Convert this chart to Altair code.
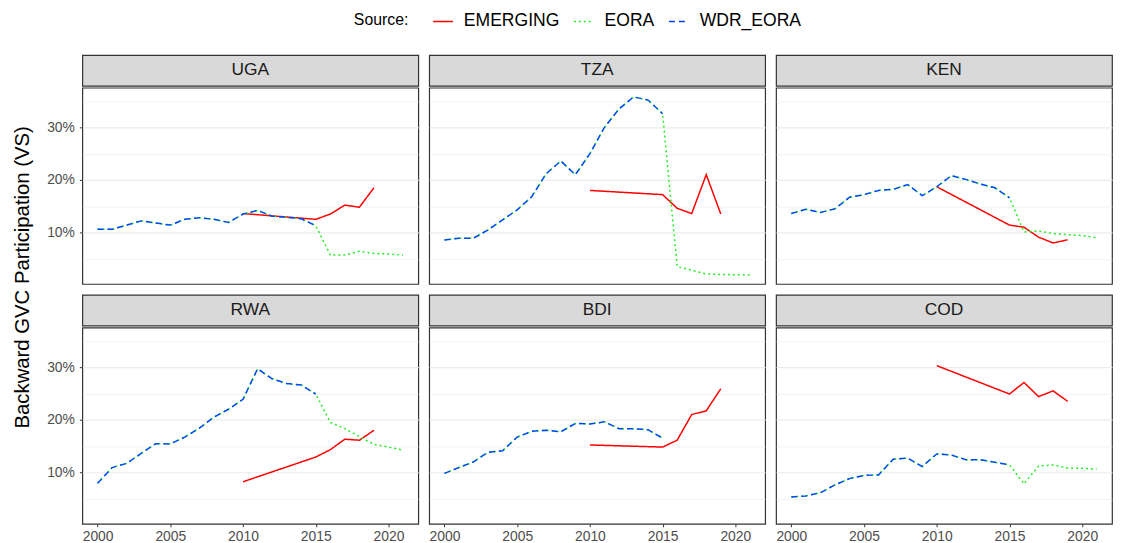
import altair as alt
import pandas as pd

countries = ["UGA", "TZA", "KEN", "RWA", "BDI", "COD"]
sources = ["EMERGING", "EORA", "WDR_EORA"]

years_wdr = list(range(2000, 2016))
years_tail = list(range(2016, 2022))
years_emerging = [2010, 2015, 2016, 2017, 2018, 2019]

# WDR_EORA (identical to EORA for 2000-2015), in percent
wdr = {
    "UGA": [10.6, 10.6, 11.4, 12.2, 11.8, 11.4, 12.5, 12.8, 12.5, 11.9, 13.5, 14.2, 13.1, 12.9, 12.6, 11.3],
    "TZA": [8.55, 8.9, 8.9, 10.5, 12.4, 14.3, 16.8, 21.2, 23.6, 21.0, 25.0, 30.0, 33.5, 35.8, 35.2, 32.6],
    "KEN": [13.6, 14.4, 13.8, 14.5, 16.7, 17.2, 18.0, 18.2, 19.1, 17.0, 18.7, 20.8, 20.1, 19.2, 18.5, 16.6],
    "RWA": [7.9, 10.9, 11.7, 13.6, 15.45, 15.4, 16.7, 18.4, 20.5, 22.0, 23.9, 29.7, 27.8, 26.9, 26.6, 24.9],
    "BDI": [9.8, 10.9, 12.0, 13.8, 14.1, 16.7, 17.8, 18.0, 17.7, 19.3, 19.2, 19.6, 18.3, 18.3, 18.1, 16.5],
    "COD": [5.3, 5.5, 6.1, 7.6, 8.8, 9.4, 9.5, 12.5, 12.7, 11.1, 13.5, 13.3, 12.4, 12.4, 11.9, 11.4],
}
# EORA after 2015, in percent
eora_tail = {
    "UGA": [5.7, 5.7, 6.4, 6.0, 5.9, 5.7],
    "TZA": [3.5, 2.8, 2.1, 2.0, 1.95, 1.9],
    "KEN": [10.1, 10.3, 9.8, 9.6, 9.4, 9.0],
    "RWA": [19.5, 18.3, 16.8, 15.3, 14.8, 14.2],
    "BDI": [],
    "COD": [7.8, 11.2, 11.4, 10.8, 10.75, 10.6],
}
# EMERGING, in percent
emerging = {
    "UGA": [13.6, 12.5, 13.5, 15.2, 14.8, 18.5],
    "TZA": [18.0, 17.2, 14.6, 13.6, 21.0, 13.5],
    "KEN": [18.7, 11.4, 11.0, 9.1, 8.0, 8.6],
    "RWA": [8.2, 12.9, 14.3, 16.3, 16.1, 18.0],
    "BDI": [15.2, 14.8, 16.1, 21.0, 21.7, 25.9],
    "COD": [30.3, 24.9, 27.1, 24.4, 25.5, 23.5],
}

rows = []
for c in countries:
    for y, v in zip(years_emerging, emerging[c]):
        rows.append((c, "EMERGING", y, v / 100))
    for y, v in zip(years_wdr + years_tail, wdr[c] + eora_tail[c]):
        rows.append((c, "EORA", y, v / 100))
    for y, v in zip(years_wdr, wdr[c]):
        rows.append((c, "WDR_EORA", y, v / 100))
df = pd.DataFrame(rows, columns=["Country", "Source", "Year", "Value"])

W, H, SH = 339, 198, 31
FONT = "Liberation Sans"
colors = ["#FF0000", "#22EE22", "#0044FF"]
dashes = [[1, 0], [2, 3], [6, 4]]

ygrid_vals = [0.05, 0.10, 0.15, 0.20, 0.25, 0.30, 0.35]
is_major = "round(datum.value*100) % 10 == 0"

legend = alt.Legend(
    title="Source:", orient="none", legendX=274, legendY=-45,
    direction="horizontal", titleOrient="left", titleFontSize=16,
    titleFontWeight="normal", titleColor="#000000", titlePadding=23,
    labelFontSize=17.7, labelColor="#000000", labelOffset=10,
    columnPadding=11, symbolSize=400, symbolStrokeWidth=1.5,
    symbolType="stroke",
)


def yaxis(left):
    common = dict(
        values=ygrid_vals, grid=True, gridColor="#EBEBEB",
        gridWidth={"condition": {"test": is_major, "value": 1.2}, "value": 0.6},
        domain=False, title=None,
    )
    if left:
        return alt.Axis(
            labelExpr=f"{is_major} ? format(datum.value, '.0%') : ''",
            labelFontSize=14, labelColor="#4D4D4D", labelPadding=5,
            tickSize=3,
            tickColor={"condition": {"test": is_major, "value": "#333333"}, "value": "transparent"},
            **common,
        )
    return alt.Axis(labels=False, ticks=False, **common)


def xaxis(bottom):
    if not bottom:
        return None
    return alt.Axis(
        values=[2000, 2005, 2010, 2015, 2020], format="d", grid=False,
        domain=False, title=None, labelFontSize=14, labelColor="#4D4D4D",
        tickSize=3, tickColor="#333333", labelPadding=3,
    )


def panel(c, left, bottom):
    strip = alt.Chart(pd.DataFrame({"t": [c]})).mark_text(
        fontSize=17.5, color="#1A1A1A", font=FONT, align="center", baseline="middle"
    ).encode(
        text="t:N", x=alt.value(W / 2), y=alt.value(SH / 2)
    ).properties(
        width=W, height=SH,
        view=alt.ViewBackground(fill="#D9D9D9", stroke="#333333", strokeWidth=1.2),
    )
    plot = alt.Chart(df).transform_filter(alt.datum.Country == c).mark_line(
        strokeWidth=1.5
    ).encode(
        x=alt.X("Year:Q", scale=alt.Scale(domain=[1998.95, 2022.05], nice=False, zero=False),
                axis=xaxis(bottom)),
        y=alt.Y("Value:Q", scale=alt.Scale(domain=[0.002, 0.3755], nice=False, zero=False),
                axis=yaxis(left)),
        color=alt.Color("Source:N", scale=alt.Scale(domain=sources, range=colors), legend=legend),
        strokeDash=alt.StrokeDash("Source:N", scale=alt.Scale(domain=sources, range=dashes), legend=legend),
    ).properties(width=W, height=H)
    return alt.vconcat(strip, plot, spacing=0)


row1 = alt.hconcat(*[panel(c, i == 0, False) for i, c in enumerate(countries[:3])], spacing=9)
row2 = alt.hconcat(*[panel(c, i == 0, True) for i, c in enumerate(countries[3:])], spacing=9)

chart = alt.vconcat(row1, row2, spacing=9).properties(
    padding={"left": 4, "top": 0, "right": 0, "bottom": 0},
    title=alt.TitleParams(
        "Backward GVC Participation (VS)", orient="left", anchor="middle",
        fontSize=20.5, fontWeight="normal", color="#000000", font=FONT, offset=13,
    ),
).configure(font=FONT).configure_view(stroke="#333333", strokeWidth=1.2)

chart.save("out.html", embed_options={"renderer": "svg", "actions": False})
